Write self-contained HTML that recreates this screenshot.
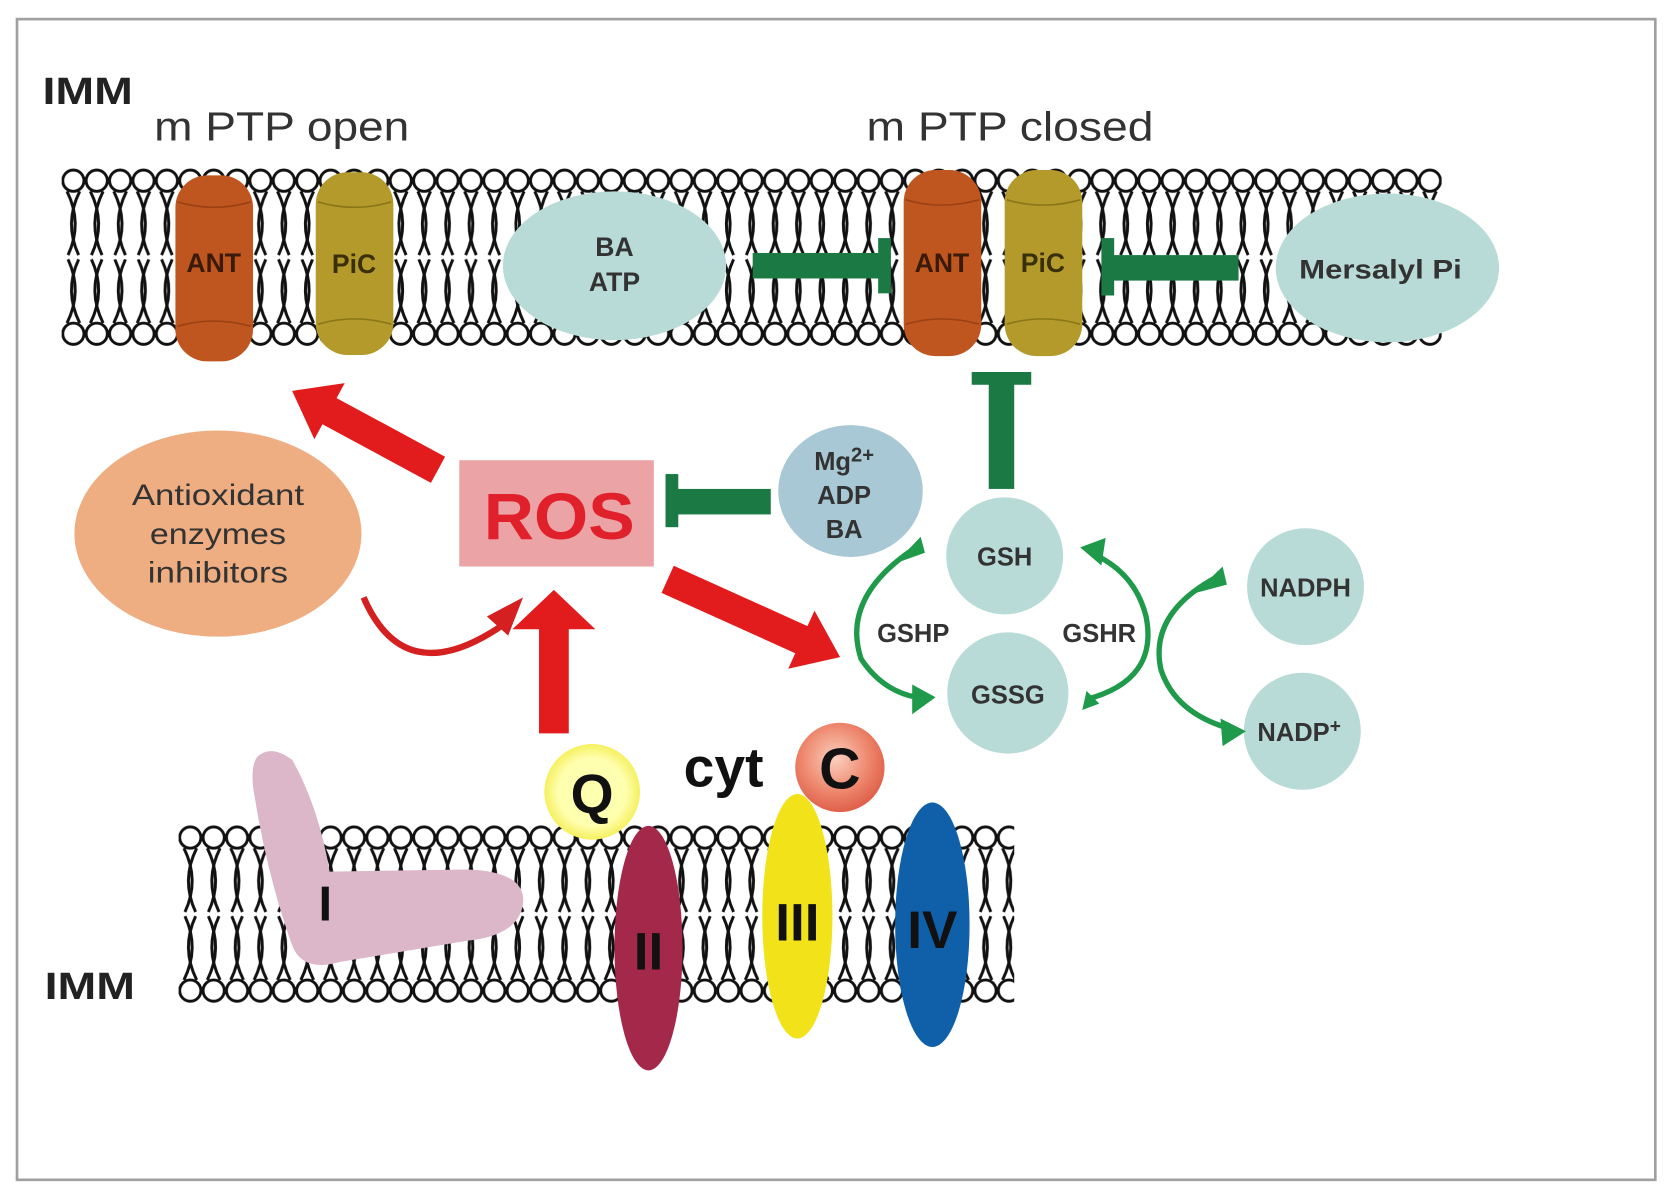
<!DOCTYPE html>
<html><head><meta charset="utf-8"><style>
html,body{margin:0;padding:0;background:#fff;}
svg{display:block;}
text{font-family:"Liberation Sans",Arial,sans-serif;}
</style></head><body>
<svg width="1667" height="1200" viewBox="0 0 1568 1129" preserveAspectRatio="none" xmlns="http://www.w3.org/2000/svg">
<defs>
<pattern id="lip" patternUnits="userSpaceOnUse" x="0" y="0" width="22" height="168">
<g fill="none" stroke="#111" stroke-width="2.8">
<circle cx="11" cy="12" r="10" fill="#fff"/>
<path d="M5,22 Q20,52 6,82"/><path d="M17,22 Q2,52 16,82"/>
<path d="M5,146 Q20,116 6,86"/><path d="M17,146 Q2,116 16,86"/>
<circle cx="11" cy="156" r="10" fill="#fff"/>
</g>
</pattern>
<radialGradient id="cg" cx="0.45" cy="0.4" r="0.6"><stop offset="0" stop-color="#fbd0c0"/><stop offset="0.6" stop-color="#ee8a70"/><stop offset="1" stop-color="#e0604a"/></radialGradient>
<radialGradient id="qg" cx="0.5" cy="0.5" r="0.5"><stop offset="0.7" stop-color="#ffffb0"/><stop offset="1" stop-color="#f5f060"/></radialGradient>
</defs>
<rect x="16" y="18" width="1541" height="1092" fill="#fff" stroke="#a0a0a0" stroke-width="2.5"/>

<text x="40" y="98" font-size="36" font-weight="bold" fill="#222" textLength="85" lengthAdjust="spacingAndGlyphs">IMM</text>
<text x="145" y="132" font-size="38" fill="#333" textLength="240" lengthAdjust="spacingAndGlyphs">m PTP open</text>
<text x="815" y="132" font-size="38" fill="#333" textLength="270" lengthAdjust="spacingAndGlyphs">m PTP closed</text>

<!-- top membrane -->
<g transform="translate(58,158)"><rect x="0" y="0" width="1298" height="168" fill="url(#lip)"/></g>
<line x1="58" y1="243" x2="1356" y2="243" stroke="#fff" stroke-width="1.5" stroke-dasharray="4 4"/>

<!-- cylinders -->
<g>
<rect x="165" y="165" width="73" height="175" rx="30" fill="#c0561f"/>
<path d="M167,190 Q201,200 236,190 M167,307 Q201,297 236,307" stroke="#9a4015" fill="none" stroke-width="1.5"/>
<text x="201" y="256" font-size="25" font-weight="bold" fill="#3a1a08" text-anchor="middle">ANT</text>
<rect x="297" y="162" width="73" height="172" rx="30" fill="#b39a2b"/>
<path d="M299,190 Q333,200 368,190 M299,305 Q333,295 368,305" stroke="#8a7518" fill="none" stroke-width="1.5"/>
<text x="333" y="257" font-size="25" font-weight="bold" fill="#3a3008" text-anchor="middle">PiC</text>
<rect x="850" y="160" width="73" height="175" rx="30" fill="#c0561f"/>
<path d="M852,188 Q886,198 921,188 M852,305 Q886,295 921,305" stroke="#9a4015" fill="none" stroke-width="1.5"/>
<text x="886" y="256" font-size="25" font-weight="bold" fill="#3a1a08" text-anchor="middle">ANT</text>
<rect x="945" y="160" width="73" height="175" rx="30" fill="#b39a2b"/>
<path d="M947,188 Q981,198 1016,188 M947,305 Q981,295 1016,305" stroke="#8a7518" fill="none" stroke-width="1.5"/>
<text x="981" y="256" font-size="25" font-weight="bold" fill="#3a3008" text-anchor="middle">PiC</text>
</g>

<ellipse cx="578" cy="250" rx="105" ry="70" fill="#b9dbd7"/>
<text x="578" y="241" font-size="25" font-weight="bold" fill="#333" text-anchor="middle">BA</text>
<text x="578" y="274" font-size="25" font-weight="bold" fill="#333" text-anchor="middle">ATP</text>
<ellipse cx="1305" cy="252" rx="105" ry="70" fill="#b9dbd7"/>
<text x="1222" y="262" font-size="25" font-weight="bold" fill="#333" textLength="153" lengthAdjust="spacingAndGlyphs">Mersalyl Pi</text>

<!-- green inhibitors -->
<g fill="#1b7a44">
<rect x="708" y="238" width="125" height="24"/><rect x="826" y="224" width="12" height="52"/>
<rect x="1042" y="240" width="123" height="24"/><rect x="1036" y="224" width="12" height="54"/>
<rect x="930" y="360" width="24" height="100"/><rect x="914" y="350" width="56" height="12"/>
<rect x="633" y="460" width="92" height="24"/><rect x="626" y="446" width="12" height="50"/>
</g>

<!-- red arrows -->
<g fill="#e21c1c">
<path transform="translate(412,442) rotate(208.4)" d="M0,-14 L116,-14 L116,-30 L156,0 L116,30 L116,14 L0,14Z"/>
<path transform="translate(628,545) rotate(24.3)" d="M0,-14 L138,-14 L138,-30 L178,0 L138,30 L138,14 L0,14Z"/>
<path d="M507,690 L507,592 L482,592 L521,555 L560,592 L535,592 L535,690Z"/>
</g>
<path d="M342,562 Q380,650 470,590" fill="none" stroke="#d42020" stroke-width="6"/>
<path d="M458,580 L492,562 L478,598Z" fill="#d42020"/>

<ellipse cx="205" cy="502" rx="135" ry="97" fill="#efae82"/>
<text x="205" y="475" font-size="28" fill="#333" text-anchor="middle" textLength="162" lengthAdjust="spacingAndGlyphs">Antioxidant</text>
<text x="205" y="512" font-size="28" fill="#333" text-anchor="middle" textLength="128" lengthAdjust="spacingAndGlyphs">enzymes</text>
<text x="205" y="548" font-size="28" fill="#333" text-anchor="middle" textLength="132" lengthAdjust="spacingAndGlyphs">inhibitors</text>

<rect x="432" y="433" width="183" height="100" fill="#eba3a6"/>
<text x="526" y="507" font-size="62" font-weight="bold" fill="#e0202a" text-anchor="middle" textLength="142" lengthAdjust="spacingAndGlyphs">ROS</text>

<ellipse cx="800" cy="462" rx="68" ry="62" fill="#a9c8d5"/>
<text x="794" y="442" font-size="24" font-weight="bold" fill="#333" text-anchor="middle">Mg<tspan font-size="19" dy="-8">2+</tspan></text>
<text x="794" y="474" font-size="24" font-weight="bold" fill="#333" text-anchor="middle">ADP</text>
<text x="794" y="506" font-size="24" font-weight="bold" fill="#333" text-anchor="middle">BA</text>

<!-- glutathione -->
<g fill="#b9dbd7">
<circle cx="945" cy="523" r="55"/><circle cx="948" cy="652" r="57"/>
<circle cx="1228" cy="552" r="55"/><circle cx="1225" cy="688" r="55"/>
</g>
<g font-size="24" font-weight="bold" fill="#333" text-anchor="middle">
<text x="945" y="532">GSH</text><text x="948" y="662">GSSG</text>
<text x="1228" y="561">NADPH</text><text x="1222" y="697">NADP<tspan font-size="18" dy="-8">+</tspan></text>
<text x="859" y="604">GSHP</text><text x="1034" y="604">GSHR</text>
</g>
<g fill="none" stroke="#1f9a4a" stroke-width="5">
<path d="M866,512 Q790,560 810,620 Q830,650 862,656"/>
<path d="M1022,658 Q1090,640 1078,580 Q1068,540 1030,522"/>
<path d="M1150,540 Q1080,575 1092,630 Q1105,670 1155,685"/>
</g>
<g fill="#1f9a4a">
<path d="M866,505 L870,520 L842,530Z"/>
<path d="M880,656 L858,644 L858,672Z"/>
<path d="M1016,515 L1040,506 L1036,532Z"/>
<path d="M1022,650 L1034,662 L1018,668Z"/>
<path d="M1150,533 L1154,550 L1124,558Z"/>
<path d="M1172,688 L1148,676 L1150,702Z"/>
</g>

<!-- bottom membrane -->
<g transform="translate(168,776)"><rect x="0" y="0" width="786" height="168" fill="url(#lip)"/></g>
<line x1="168" y1="860" x2="954" y2="860" stroke="#fff" stroke-width="1.5" stroke-dasharray="4 4"/>
<text x="42" y="940" font-size="36" font-weight="bold" fill="#222" textLength="85" lengthAdjust="spacingAndGlyphs">IMM</text>

<path d="M242,712 Q255,700 275,715 Q300,760 310,820 L440,818 Q495,820 492,850 Q488,880 440,885 L320,905 Q285,915 275,890 Q250,820 238,740 Q236,720 242,712Z" fill="#dcb6c9"/>
<text x="306" y="866" font-size="46" font-weight="bold" fill="#111" text-anchor="middle">I</text>

<ellipse cx="610" cy="892" rx="32" ry="115" fill="#a4284a"/>
<text x="610" y="912" font-size="50" font-weight="bold" fill="#111" text-anchor="middle">II</text>
<ellipse cx="750" cy="862" rx="33" ry="115" fill="#f2e21a"/>
<text x="750" y="885" font-size="50" font-weight="bold" fill="#111" text-anchor="middle">III</text>
<ellipse cx="877" cy="870" rx="35" ry="115" fill="#0f60a8"/>
<text x="877" y="892" font-size="50" font-weight="bold" fill="#111" text-anchor="middle">IV</text>

<circle cx="557" cy="745" r="45" fill="url(#qg)"/>
<text x="557" y="765" font-size="52" font-weight="bold" fill="#111" text-anchor="middle">Q</text>
<text x="643" y="740" font-size="52" font-weight="bold" fill="#111">cyt</text>
<circle cx="790" cy="722" r="42" fill="url(#cg)"/>
<text x="790" y="742" font-size="54" font-weight="bold" fill="#111" text-anchor="middle">C</text>
</svg>
</body></html>
